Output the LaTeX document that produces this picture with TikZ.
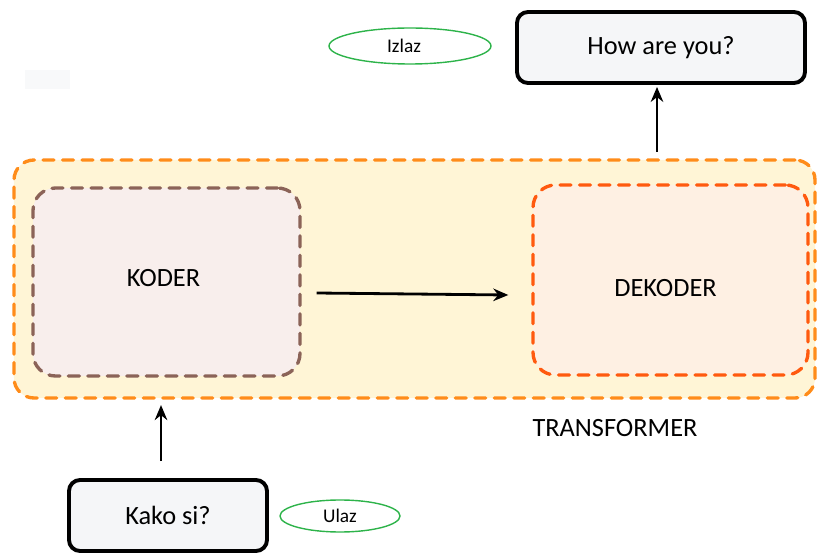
\documentclass[tikz,border=0pt]{standalone}
\usepackage{fontspec}
\setmainfont{Carlito}
\usepackage{tikz}
\usetikzlibrary{arrows.meta, positioning, shapes.geometric, calc}

\definecolor{outerline}{HTML}{FF8C1A}
\definecolor{outerfill}{HTML}{FFF5D6}
\definecolor{koderline}{HTML}{8B6358}
\definecolor{koderfill}{HTML}{F8EEEC}
\definecolor{dekoderline}{HTML}{FF5A0F}
\definecolor{dekoderfill}{HTML}{FEF0E3}
\definecolor{textboxfill}{HTML}{F5F6F8}
\definecolor{tagline}{HTML}{2DB34A}
\definecolor{smallgrey}{HTML}{F8F9FA}

\begin{document}
\begin{tikzpicture}[
    every node/.style={font=\fontsize{15}{17}\selectfont},
    dashbox/.style={rounded corners=0.45cm, line width=1.9pt, dash pattern=on 0.22cm off 0.17cm, line cap=round},
    outerbox/.style={dashbox, draw=outerline, fill=outerfill, minimum width=16.02cm, minimum height=4.76cm, rounded corners=0.4cm},
    koderbox/.style={dashbox, draw=koderline, fill=koderfill, minimum width=5.34cm, minimum height=3.76cm},
    dekoderbox/.style={dashbox, draw=dekoderline, fill=dekoderfill, minimum width=5.5cm, minimum height=3.8cm},
    textbox/.style={draw=black, line width=2.2pt, fill=textboxfill, rounded corners=0.22cm, minimum height=1.42cm},
    tag/.style={ellipse, draw=tagline, line width=0.8pt, font=\fontsize{11}{13}\selectfont, inner sep=0pt},
    arr/.style={line width=1.6pt, -{Stealth[length=0.3cm, width=0.25cm]}}
]

% Canvas
\useasboundingbox (0,0) rectangle (16.36,-11.06);

% Small grey patch
\fill[smallgrey] (0.5,-1.4) rectangle (1.4,-1.78);

% Transformer with encoder and decoder
\node[outerbox] (transformer) at (8.29,-5.58) {};
\node[koderbox] (koder) at (3.33,-5.64) {};
\node[dekoderbox] (dekoder) at (13.41,-5.6) {};
\node (kodertext) at ([xshift=-0.06cm, yshift=0.08cm]koder.center) {KODER};
\node (dekodertext) at ([xshift=-0.1cm, yshift=-0.16cm]dekoder.center) {DEKODER};
\node (translabel) at (12.3,-8.56) {TRANSFORMER};

% Input and output sentences
\node[textbox, minimum width=5.76cm] (output) at (13.22,-0.95) {How are you?};
\node[textbox, minimum width=3.96cm] (input) at (3.36,-10.31) {Kako si?};

% Tags
\node[tag, minimum width=3.24cm, minimum height=0.72cm] (izlaz) at (8.2,-0.92) {};
\node[font=\fontsize{11}{13}\selectfont] (izlaztext) at ([xshift=-0.12cm]izlaz.center) {Izlaz};
\node[tag, minimum width=2.4cm, minimum height=0.64cm] (ulaz) at (6.8,-10.32) {Ulaz};

% Arrows
\draw[arr] ([xshift=0.3cm, yshift=-0.22cm]koder.east) -- ([xshift=-0.46cm, yshift=-0.3cm]dekoder.west);
\draw[arr] ([xshift=-0.08cm, yshift=-1.34cm]output.south) -- ([xshift=-0.08cm, yshift=-0.04cm]output.south);
\draw[arr] ([xshift=-0.14cm, yshift=0.34cm]input.north) -- ([xshift=-0.14cm, yshift=1.46cm]input.north);

\end{tikzpicture}
\end{document}
